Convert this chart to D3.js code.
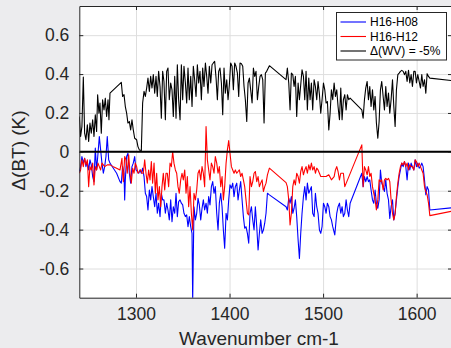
<!DOCTYPE html>
<html>
<head>
<meta charset="utf-8">
<script src="https://cdn.jsdelivr.net/npm/d3@7"></script>
<style>
  body { margin: 0; background: #ececee; }
  svg { display: block; font-family: "Liberation Sans", Arial, sans-serif; }
</style>
</head>
<body>
<div id="chart"></div>
<script>
// wavenumber (cm-1) and delta BT (K)
var wvSeries = [
  [1239.4,0.182],[1240.8,0.079],[1242.2,0.130],[1243.7,0.385],[1245.1,0.096],[1246.5,0.062],[1248.0,0.139],
  [1249.4,0.053],[1250.8,0.148],[1252.2,0.096],[1253.7,0.165],[1255.1,0.079],[1256.5,0.191],[1257.9,0.105],
  [1259.0,0.294],[1260.4,0.199],[1261.5,0.251],[1262.9,0.096],[1264.3,0.268],[1265.8,0.216],[1267.2,0.276],
  [1268.6,0.182],[1270.1,0.268],[1271.1,0.165],[1272.2,0.302],[1284.3,0.357],[1285.7,0.285],[1287.2,0.294],
  [1288.6,0.233],[1290.0,0.199],[1291.4,0.148],[1292.9,0.156],[1294.3,0.113],[1295.7,0.165],[1297.1,0.113],
  [1298.6,0.070],[1300.7,0.062],[1302.1,0.027],[1303.6,0.010],[1305.7,0.007],[1307.1,0.251],[1308.6,0.311],
  [1310.0,0.285],[1311.4,0.328],[1312.8,0.379],[1314.3,0.311],[1315.7,0.388],[1317.1,0.328],[1318.5,0.397],
  [1320.0,0.302],[1321.4,0.388],[1322.8,0.285],[1324.2,0.414],[1325.7,0.336],[1327.1,0.173],[1328.5,0.414],
  [1329.9,0.362],[1331.4,0.165],[1332.8,0.414],[1334.2,0.431],[1335.6,0.268],[1337.1,0.354],[1338.5,0.319],
  [1339.9,0.182],[1341.4,0.388],[1342.8,0.173],[1344.2,0.448],[1345.6,0.268],[1347.1,0.165],[1348.5,0.448],
  [1349.9,0.268],[1351.3,0.440],[1352.8,0.354],[1354.2,0.251],[1355.6,0.431],[1357.0,0.268],[1358.5,0.388],
  [1359.9,0.233],[1361.3,0.440],[1362.7,0.371],[1364.2,0.285],[1365.6,0.448],[1367.0,0.354],[1368.4,0.414],
  [1369.9,0.268],[1371.3,0.431],[1372.7,0.336],[1374.2,0.457],[1375.6,0.388],[1377.0,0.302],[1378.4,0.440],
  [1379.9,0.354],[1381.3,0.448],[1382.7,0.457],[1384.1,0.465],[1385.6,0.379],[1387.0,0.268],[1388.4,0.414],
  [1389.8,0.431],[1391.3,0.354],[1392.7,0.191],[1394.1,0.431],[1395.5,0.302],[1397.0,0.371],[1398.4,0.268],
  [1399.8,0.345],[1401.2,0.457],[1402.7,0.440],[1404.1,0.319],[1405.5,0.457],[1406.9,0.440],[1408.4,0.405],
  [1409.8,0.285],[1411.2,0.457],[1412.7,0.453],[1414.1,0.440],[1415.5,0.336],[1416.9,0.268],[1418.4,0.156],
  [1419.8,0.354],[1421.2,0.379],[1422.6,0.319],[1424.1,0.251],[1425.5,0.431],[1426.9,0.388],[1428.3,0.414],
  [1429.8,0.268],[1431.2,0.336],[1432.6,0.388],[1434.0,0.397],[1435.5,0.371],[1436.9,0.148],[1438.3,0.405],
  [1439.7,0.414],[1442.6,0.443],[1460.4,0.371],[1461.8,0.431],[1463.3,0.354],[1464.7,0.216],[1466.1,0.405],
  [1467.6,0.397],[1469.0,0.336],[1470.4,0.388],[1471.8,0.182],[1473.3,0.354],[1474.7,0.268],[1476.1,0.345],
  [1477.5,0.422],[1479.0,0.388],[1480.4,0.268],[1481.8,0.414],[1483.2,0.216],[1484.7,0.379],[1486.1,0.268],
  [1487.5,0.354],[1488.9,0.216],[1490.4,0.371],[1491.8,0.336],[1493.2,0.268],[1494.6,0.362],[1496.1,0.294],
  [1497.5,0.199],[1498.9,0.268],[1500.4,0.354],[1501.8,0.319],[1503.2,0.251],[1504.6,0.259],[1506.1,0.113],
  [1507.5,0.199],[1508.9,0.319],[1510.3,0.268],[1511.8,0.354],[1513.2,0.285],[1514.6,0.319],[1516.0,0.233],
  [1517.5,0.165],[1518.9,0.328],[1520.3,0.165],[1521.7,0.268],[1523.2,0.294],[1524.6,0.216],[1526.0,0.294],
  [1527.4,0.268],[1528.9,0.276],[1541.4,0.216],[1542.8,0.173],[1544.2,0.268],[1545.6,0.328],[1547.1,0.362],
  [1548.5,0.268],[1549.9,0.336],[1551.3,0.233],[1552.8,0.319],[1554.2,0.216],[1555.6,0.285],[1557.0,0.148],
  [1558.5,0.070],[1559.9,0.156],[1561.3,0.319],[1562.7,0.362],[1564.2,0.285],[1565.6,0.216],[1567.0,0.336],
  [1568.4,0.233],[1569.9,0.302],[1571.3,0.199],[1572.7,0.268],[1574.2,0.371],[1575.6,0.233],[1577.0,0.130],
  [1578.4,0.319],[1579.9,0.397],[1581.3,0.405],[1582.7,0.414],[1584.1,0.419],[1585.6,0.414],[1587.0,0.397],
  [1588.4,0.414],[1589.8,0.362],[1591.3,0.419],[1592.7,0.354],[1594.1,0.397],[1595.5,0.336],[1597.0,0.414],
  [1598.4,0.414],[1599.8,0.354],[1601.2,0.397],[1602.7,0.362],[1604.1,0.328],[1605.5,0.397],[1606.9,0.336],
  [1608.4,0.371],[1609.8,0.302],[1611.2,0.402],[1612.7,0.388],[1614.1,0.379],[1636.9,0.367]
];

var h08Series = [
  [1239.4,-0.101],[1240.8,-0.076],[1242.2,-0.024],[1243.7,-0.058],[1245.1,-0.033],[1246.5,-0.076],[1248.0,-0.050],
  [1249.4,-0.093],[1250.8,-0.041],[1252.2,-0.067],[1253.7,-0.127],[1255.1,-0.153],[1256.5,0.019],[1257.9,-0.093],
  [1259.4,-0.007],[1260.8,0.079],[1262.2,0.010],[1263.6,-0.058],[1265.1,-0.110],[1266.5,-0.076],[1267.9,-0.024],
  [1269.3,0.079],[1270.8,-0.041],[1272.2,-0.058],[1275.8,-0.084],[1279.3,-0.110],[1282.9,-0.153],[1284.3,-0.161],
  [1285.7,-0.076],[1287.2,-0.110],[1287.9,-0.247],[1288.6,-0.144],[1290.0,-0.024],[1291.4,-0.007],[1292.9,-0.110],
  [1294.3,-0.161],[1295.7,-0.076],[1297.1,-0.058],[1298.6,-0.024],[1300.0,-0.093],[1301.4,-0.101],[1302.9,-0.110],
  [1304.3,-0.093],[1305.7,-0.110],[1307.1,-0.084],[1308.6,-0.127],[1310.0,-0.213],[1311.4,-0.230],[1312.8,-0.299],
  [1314.3,-0.196],[1315.7,-0.247],[1317.1,-0.179],[1318.5,-0.230],[1320.0,-0.282],[1321.4,-0.213],[1322.8,-0.316],
  [1324.2,-0.264],[1325.7,-0.333],[1327.1,-0.213],[1328.5,-0.247],[1329.9,-0.247],[1331.4,-0.316],[1332.8,-0.264],
  [1334.2,-0.299],[1335.6,-0.350],[1337.1,-0.247],[1338.5,-0.359],[1339.9,-0.282],[1341.4,-0.316],[1342.8,-0.213],
  [1344.2,-0.333],[1345.6,-0.256],[1347.1,-0.247],[1348.5,-0.264],[1349.9,-0.273],[1351.3,-0.316],[1352.8,-0.333],
  [1354.2,-0.324],[1355.6,-0.385],[1357.0,-0.333],[1358.5,-0.385],[1359.9,-0.419],[1360.6,-0.770],[1362.0,-0.282],
  [1363.5,-0.350],[1364.9,-0.316],[1366.3,-0.239],[1367.7,-0.273],[1369.2,-0.350],[1370.6,-0.290],[1372.0,-0.247],
  [1373.4,-0.299],[1374.9,-0.264],[1376.3,-0.316],[1377.7,-0.230],[1379.1,-0.273],[1380.6,-0.179],[1382.0,-0.153],
  [1383.4,-0.213],[1384.8,-0.179],[1386.3,-0.316],[1387.7,-0.402],[1389.1,-0.264],[1390.6,-0.213],[1392.0,-0.282],
  [1393.4,-0.402],[1394.8,-0.496],[1396.3,-0.316],[1397.7,-0.350],[1399.1,-0.247],[1400.5,-0.170],[1402.0,-0.187],
  [1403.4,-0.161],[1404.8,-0.230],[1406.2,-0.179],[1407.7,-0.161],[1409.1,-0.247],[1410.5,-0.196],[1411.9,-0.153],
  [1413.4,-0.247],[1414.8,-0.333],[1416.2,-0.393],[1417.6,-0.385],[1419.1,-0.419],[1420.5,-0.470],[1421.9,-0.316],
  [1423.4,-0.282],[1424.8,-0.350],[1426.2,-0.402],[1427.6,-0.282],[1429.1,-0.385],[1430.5,-0.505],[1431.9,-0.419],
  [1433.3,-0.350],[1434.8,-0.419],[1436.2,-0.402],[1437.6,-0.367],[1439.0,-0.316],[1440.5,-0.213],[1442.6,-0.221],
  [1460.4,-0.282],[1461.8,-0.299],[1463.3,-0.239],[1464.7,-0.264],[1466.1,-0.230],[1467.6,-0.316],[1469.0,-0.290],
  [1470.4,-0.247],[1471.8,-0.333],[1473.3,-0.453],[1474.7,-0.548],[1476.1,-0.419],[1477.5,-0.316],[1479.0,-0.230],
  [1480.4,-0.179],[1481.8,-0.247],[1483.2,-0.161],[1484.7,-0.213],[1486.1,-0.196],[1487.5,-0.179],[1488.9,-0.316],
  [1490.4,-0.333],[1491.8,-0.213],[1493.2,-0.282],[1494.6,-0.316],[1496.1,-0.402],[1497.5,-0.419],[1498.9,-0.385],
  [1500.4,-0.264],[1501.8,-0.282],[1503.2,-0.316],[1504.6,-0.264],[1506.1,-0.282],[1507.5,-0.333],[1508.9,-0.350],
  [1510.3,-0.385],[1512.5,-0.427],[1514.6,-0.316],[1516.0,-0.282],[1517.5,-0.264],[1518.9,-0.316],[1520.3,-0.282],
  [1521.7,-0.333],[1523.2,-0.316],[1524.6,-0.247],[1526.0,-0.299],[1527.4,-0.333],[1528.9,-0.264],[1541.4,-0.110],
  [1542.8,-0.179],[1544.2,-0.127],[1545.6,-0.153],[1547.1,-0.127],[1548.5,-0.153],[1549.9,-0.144],[1551.3,-0.196],
  [1552.8,-0.247],[1554.2,-0.264],[1555.6,-0.196],[1557.0,-0.264],[1558.5,-0.290],[1559.9,-0.247],[1561.3,-0.093],
  [1562.7,-0.161],[1564.2,-0.179],[1565.6,-0.204],[1567.0,-0.144],[1568.4,-0.213],[1569.9,-0.247],[1571.3,-0.342],
  [1572.7,-0.282],[1574.2,-0.247],[1575.6,-0.350],[1577.0,-0.316],[1578.4,-0.247],[1579.9,-0.179],[1581.3,-0.127],
  [1582.7,-0.093],[1584.1,-0.058],[1585.6,-0.076],[1587.0,-0.050],[1588.4,-0.076],[1589.8,-0.144],[1591.3,-0.058],
  [1592.7,-0.093],[1594.1,-0.058],[1595.5,-0.076],[1597.0,-0.093],[1598.4,-0.041],[1599.8,-0.076],[1601.2,-0.058],
  [1602.7,-0.084],[1604.1,-0.076],[1605.5,-0.058],[1606.9,-0.076],[1608.4,-0.144],[1609.8,-0.221],[1611.2,-0.179],
  [1612.7,-0.196],[1614.1,-0.299],[1636.9,-0.288]
];

var h12Series = [
  [1239.4,-0.110],[1240.8,-0.093],[1242.2,-0.041],[1243.7,-0.076],[1245.1,-0.033],[1246.5,-0.067],[1248.0,-0.041],
  [1249.4,-0.179],[1250.8,-0.076],[1252.2,-0.093],[1253.7,-0.058],[1255.1,-0.170],[1256.5,-0.076],[1257.9,-0.093],
  [1259.4,-0.058],[1260.8,-0.076],[1262.2,-0.093],[1263.6,-0.058],[1265.1,-0.067],[1266.5,-0.076],[1269.3,-0.067],
  [1272.2,-0.067],[1275.8,-0.076],[1279.3,-0.084],[1282.9,-0.093],[1285.0,-0.033],[1285.7,-0.110],[1286.5,-0.153],
  [1287.9,-0.024],[1289.3,-0.041],[1290.7,-0.110],[1292.2,-0.015],[1293.6,-0.110],[1295.0,-0.161],[1296.4,-0.084],
  [1297.9,-0.110],[1299.3,-0.058],[1300.7,-0.076],[1302.1,-0.110],[1303.6,-0.101],[1305.0,-0.093],[1306.4,-0.110],
  [1307.8,-0.110],[1309.3,-0.041],[1310.7,-0.110],[1312.1,-0.161],[1313.5,-0.093],[1315.0,-0.144],[1316.4,-0.050],
  [1317.8,-0.161],[1319.3,-0.058],[1320.7,-0.213],[1322.1,-0.110],[1323.5,-0.247],[1325.0,-0.179],[1326.4,-0.282],
  [1327.8,-0.179],[1329.2,-0.110],[1330.7,-0.196],[1332.1,-0.110],[1333.5,-0.110],[1334.9,-0.179],[1336.4,-0.058],
  [1337.8,-0.076],[1339.2,0.002],[1340.6,-0.058],[1342.1,-0.093],[1343.5,-0.110],[1344.9,-0.179],[1346.3,-0.213],
  [1347.8,-0.144],[1349.2,-0.110],[1350.6,-0.144],[1352.1,-0.093],[1353.5,-0.213],[1354.9,-0.127],[1356.3,-0.282],
  [1357.8,-0.179],[1359.2,-0.316],[1360.6,-0.402],[1362.0,-0.213],[1363.5,-0.247],[1364.9,-0.196],[1366.3,-0.110],
  [1367.7,-0.093],[1369.2,-0.144],[1370.6,-0.076],[1372.0,-0.110],[1373.4,-0.179],[1374.9,0.130],[1376.3,-0.041],
  [1377.7,-0.093],[1379.1,-0.144],[1380.6,-0.058],[1382.0,-0.076],[1383.4,-0.110],[1384.8,-0.024],[1386.3,-0.058],
  [1387.7,-0.110],[1389.1,-0.076],[1390.6,-0.179],[1392.0,-0.127],[1393.4,-0.247],[1394.8,-0.179],[1396.3,-0.058],
  [1397.7,0.010],[1399.1,0.058],[1400.5,-0.007],[1402.0,-0.076],[1403.4,-0.093],[1404.8,-0.110],[1406.2,-0.093],
  [1407.7,-0.110],[1409.1,-0.101],[1410.5,-0.093],[1411.9,-0.127],[1413.4,-0.110],[1414.8,-0.144],[1416.2,-0.179],
  [1417.6,-0.247],[1419.1,-0.316],[1420.5,-0.324],[1421.9,-0.127],[1423.4,-0.179],[1424.8,-0.153],[1426.2,-0.110],
  [1427.6,-0.101],[1429.1,-0.153],[1430.5,-0.127],[1431.9,-0.179],[1433.3,-0.161],[1434.8,-0.144],[1436.2,-0.204],
  [1437.6,-0.179],[1439.0,-0.161],[1440.5,-0.118],[1442.6,-0.084],[1460.4,-0.158],[1461.8,-0.179],[1463.3,-0.247],
  [1464.7,-0.376],[1466.1,-0.316],[1467.6,-0.179],[1469.0,-0.144],[1470.4,-0.170],[1471.8,-0.110],[1473.3,-0.127],
  [1474.7,-0.161],[1476.1,-0.101],[1477.5,-0.076],[1479.0,-0.118],[1480.4,-0.093],[1481.8,-0.076],[1483.2,-0.110],
  [1484.7,-0.067],[1486.1,-0.093],[1487.5,-0.058],[1488.9,-0.093],[1490.4,-0.076],[1491.8,-0.110],[1493.2,-0.084],
  [1494.6,-0.093],[1496.1,-0.110],[1497.5,-0.127],[1500.4,-0.127],[1503.2,-0.127],[1506.1,-0.118],[1508.9,-0.144],
  [1511.8,-0.127],[1513.2,-0.093],[1514.6,-0.076],[1516.0,-0.101],[1517.5,-0.144],[1518.9,-0.110],[1521.7,-0.110],
  [1523.2,-0.179],[1541.4,0.036],[1542.8,-0.179],[1544.2,-0.076],[1545.6,-0.093],[1547.1,-0.118],[1548.5,-0.076],
  [1549.9,-0.127],[1551.3,-0.110],[1552.8,-0.179],[1554.2,-0.213],[1555.6,-0.247],[1557.0,-0.299],[1558.5,-0.247],
  [1559.9,-0.144],[1561.3,-0.153],[1562.7,-0.144],[1564.2,-0.196],[1565.6,-0.144],[1567.0,-0.136],[1568.4,-0.144],
  [1569.9,-0.136],[1571.3,-0.153],[1572.7,-0.247],[1574.2,-0.316],[1575.6,-0.350],[1577.0,-0.316],[1578.4,-0.230],
  [1579.9,-0.161],[1581.3,-0.110],[1582.7,-0.076],[1584.1,-0.058],[1585.6,-0.067],[1587.0,-0.050],[1588.4,-0.076],
  [1589.8,-0.058],[1591.3,-0.093],[1592.7,-0.067],[1594.1,-0.076],[1595.5,-0.076],[1597.0,-0.093],[1598.4,-0.041],
  [1599.8,-0.050],[1601.2,-0.076],[1602.7,-0.058],[1604.1,-0.076],[1605.5,-0.093],[1606.9,-0.110],[1608.4,-0.179],
  [1609.8,-0.204],[1611.2,-0.221],[1612.7,-0.264],[1614.1,-0.328],[1636.9,-0.306]
];

var xTicks = [1300, 1400, 1500, 1600];
var yTicks = [-0.6, -0.4, -0.2, 0, 0.2, 0.4, 0.6];
var legendNames = ["H16-H08", "H16-H12", "\u0394(WV) = -5%"];
var legendColors = ["#0000ff", "#ff0000", "#000000"];

var svgwidth = 451, svgheight = 348;
var box = { left: 79.3, top: 6, right: 452, bottom: 297.7 };

var svg = d3.select('#chart')
  .append('svg')
    .attr('width', svgwidth)
    .attr('height', svgheight);

var x = d3.scaleLinear().domain([1239.4, 1637.8]).range([box.left, box.right]);
var y = d3.scaleLinear().domain([-0.75, 0.75]).range([box.bottom, box.top]);

svg.append('defs').append('clipPath').attr('id', 'clip')
  .append('rect')
    .attr('x', box.left).attr('y', box.top)
    .attr('width', box.right - box.left).attr('height', box.bottom - box.top);

svg.append('rect')
  .attr('x', box.left).attr('y', box.top)
  .attr('width', box.right - box.left).attr('height', box.bottom - box.top)
  .attr('fill', '#fff');

// grid
svg.append('g')
  .attr('transform', 'translate(0,' + box.bottom + ')')
  .call(d3.axisBottom(x).tickValues(xTicks).tickSize(-(box.bottom - box.top)).tickFormat(''))
  .call(function(g) {
    g.select('.domain').remove();
    g.selectAll('line').attr('stroke', '#dedede');
  });
svg.append('g')
  .attr('transform', 'translate(' + box.left + ',0)')
  .call(d3.axisLeft(y).tickValues(yTicks).tickSize(-(box.right - box.left)).tickFormat(''))
  .call(function(g) {
    g.select('.domain').remove();
    g.selectAll('line').attr('stroke', '#dedede');
  });

// data lines
var line = d3.line()
  .x(function(d) { return x(d[0]); })
  .y(function(d) { return y(d[1]); });

var plot = svg.append('g').attr('clip-path', 'url(#clip)');

plot.append('path').datum(wvSeries)
  .attr('fill', 'none').attr('stroke', legendColors[2]).attr('stroke-width', 1.1)
  .attr('stroke-linejoin', 'round').attr('d', line);
plot.append('path').datum(h08Series)
  .attr('fill', 'none').attr('stroke', legendColors[0]).attr('stroke-width', 1.1)
  .attr('stroke-linejoin', 'round').attr('d', line);
plot.append('path').datum(h12Series)
  .attr('fill', 'none').attr('stroke', legendColors[1]).attr('stroke-width', 1.1)
  .attr('stroke-linejoin', 'round').attr('d', line);

// zero line
plot.append('line')
  .attr('x1', x.range()[0]).attr('x2', x.range()[1])
  .attr('y1', y(0)).attr('y2', y(0))
  .attr('stroke', '#000').attr('stroke-width', 2);

// axes (ticks inward, box on)
function styleAxis(g) {
  g.select('.domain').attr('stroke', '#262626');
  g.selectAll('.tick line').attr('stroke', '#262626');
  g.selectAll('.tick text').attr('fill', '#262626')
    .attr('font-size', 17.5).attr('font-family', '"Liberation Sans", Arial, sans-serif');
}

svg.append('g')
  .attr('transform', 'translate(0,' + box.bottom + ')')
  .call(d3.axisBottom(x).tickValues(xTicks).tickSizeInner(-4).tickSizeOuter(0).tickPadding(10)
    .tickFormat(d3.format('d')))
  .call(styleAxis);
svg.append('g')
  .attr('transform', 'translate(0,' + box.top + ')')
  .call(d3.axisTop(x).tickValues(xTicks).tickSizeInner(-4).tickSizeOuter(0).tickFormat(''))
  .call(styleAxis);
svg.append('g')
  .attr('transform', 'translate(' + box.left + ',0)')
  .call(d3.axisLeft(y).tickValues(yTicks).tickSizeInner(-4).tickSizeOuter(0).tickPadding(10)
    .tickFormat(function(d) { return d === 0 ? '0' : d.toFixed(1); }))
  .call(styleAxis);
svg.append('g')
  .attr('transform', 'translate(' + box.right + ',0)')
  .call(d3.axisRight(y).tickValues(yTicks).tickSizeInner(-4).tickSizeOuter(0).tickFormat(''))
  .call(styleAxis);

// axis labels
svg.append('text')
  .attr('x', 259).attr('y', 345)
  .attr('text-anchor', 'middle')
  .attr('font-size', 19).attr('fill', '#262626')
  .text('Wavenumber cm-1');

svg.append('text')
  .attr('transform', 'translate(25,150.5) rotate(-90)')
  .attr('text-anchor', 'middle')
  .attr('font-size', 19).attr('fill', '#262626')
  .text('\u0394(BT) (K)');

// legend
var legend = svg.append('g');
legend.append('rect')
  .attr('x', 336.5).attr('y', 12.5)
  .attr('width', 110).attr('height', 47.5)
  .attr('fill', '#fff').attr('stroke', '#262626').attr('stroke-width', 1);

legendNames.forEach(function(name, i) {
  var ly = 22 + i * 14.5;
  legend.append('line')
    .attr('x1', 340.5).attr('x2', 366)
    .attr('y1', ly).attr('y2', ly)
    .attr('stroke', legendColors[i]).attr('stroke-width', 1.1);
  legend.append('text')
    .attr('x', 370).attr('y', ly + 4.3)
    .attr('font-size', 12).attr('fill', '#000')
    .text(name);
});
</script>
</body>
</html>
